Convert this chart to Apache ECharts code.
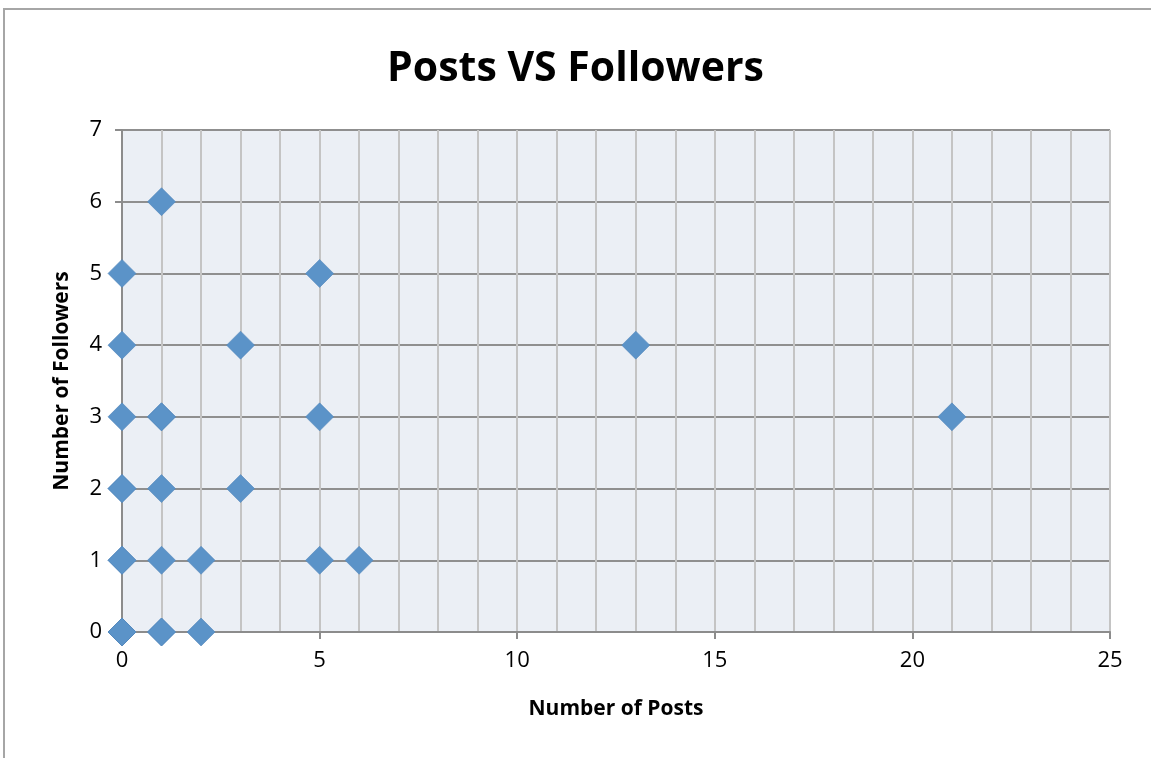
<!DOCTYPE html>
<html>
<head>
<meta charset="utf-8">
<script src="https://cdn.jsdelivr.net/npm/echarts@6/dist/echarts.min.js"></script>
<style>
    html, body { margin: 0; padding: 0; background: #fff; }
    #chart { width: 1151px; height: 758px; }
</style>
</head>
<body>
<div id="chart"></div>
<script>
// number of posts / number of followers, one pair per user (repeats overlap)
const posts     = [1, 0, 5, 0, 3, 13, 0, 1, 1, 5, 21, 0, 0, 1, 3, 0, 0, 1, 2, 5, 6, 0, 0, 0, 1, 1, 2];
const followers = [6, 5, 5, 4, 4, 4,  3, 3, 3, 3, 3,  2, 2, 2, 2, 1, 1, 1, 1, 1, 1, 0, 0, 0, 0, 0, 0];

const points = posts.map((p, i) => [p, followers[i]]);

const FONT = '"Open Sans", "Liberation Sans", sans-serif';

let chart = echarts.init(document.getElementById('chart'));

let option = {
    animation: false,
    title: {
        text: 'Posts VS Followers',
        left: 'center',
        top: 44,
        textStyle: {
            fontFamily: FONT,
            fontSize: 41,
            fontWeight: 'bold',
            color: '#000'
        }
    },
    graphic: [
        {
            type: 'rect',
            shape: { x: 4, y: 9, width: 1160, height: 760 },
            style: { fill: 'none', stroke: '#a6a6a6', lineWidth: 2 }
        }
    ],
    grid: {
        left: 122,
        right: 41,
        top: 130,
        bottom: 126,
        show: true,
        backgroundColor: '#ebeff5',
        borderWidth: 0
    },
    xAxis: {
        type: 'value',
        min: 0,
        max: 25,
        interval: 5,
        name: 'Number of Posts',
        nameLocation: 'middle',
        nameGap: 67,
        nameTextStyle: { fontFamily: FONT, fontSize: 21, fontWeight: 'bold', color: '#000' },
        axisLine: { show: true, onZero: false, lineStyle: { color: '#8c8c8c', width: 2 } },
        axisTick: { show: true, length: 7, lineStyle: { color: '#8c8c8c', width: 2 } },
        axisLabel: { fontFamily: FONT, fontSize: 22, color: '#000', margin: 18 },
        splitLine: { show: true, lineStyle: { color: '#c4c4c4', width: 2 } },
        minorTick: { show: false, splitNumber: 5 },
        minorSplitLine: { show: true, lineStyle: { color: '#c4c4c4', width: 2 } }
    },
    yAxis: {
        type: 'value',
        min: 0,
        max: 7,
        interval: 1,
        name: 'Number of Followers',
        nameLocation: 'middle',
        nameGap: 49,
        nameTextStyle: { fontFamily: FONT, fontSize: 21, fontWeight: 'bold', color: '#000' },
        axisLine: { show: true, onZero: false, lineStyle: { color: '#8c8c8c', width: 2 } },
        axisTick: { show: true, length: 7, lineStyle: { color: '#8c8c8c', width: 2 } },
        axisLabel: { fontFamily: FONT, fontSize: 22, color: '#000', margin: 20 },
        splitLine: { show: true, lineStyle: { color: '#8f8f8f', width: 2 } }
    },
    series: [
        {
            type: 'scatter',
            symbol: 'diamond',
            symbolSize: 28,
            data: points,
            itemStyle: {
                color: '#5b93c8',
                opacity: 1,
                borderColor: '#5486bb',
                borderWidth: 0.6
            }
        }
    ]
};

chart.setOption(option);
window.addEventListener('resize', chart.resize);
</script>
</body>
</html>
